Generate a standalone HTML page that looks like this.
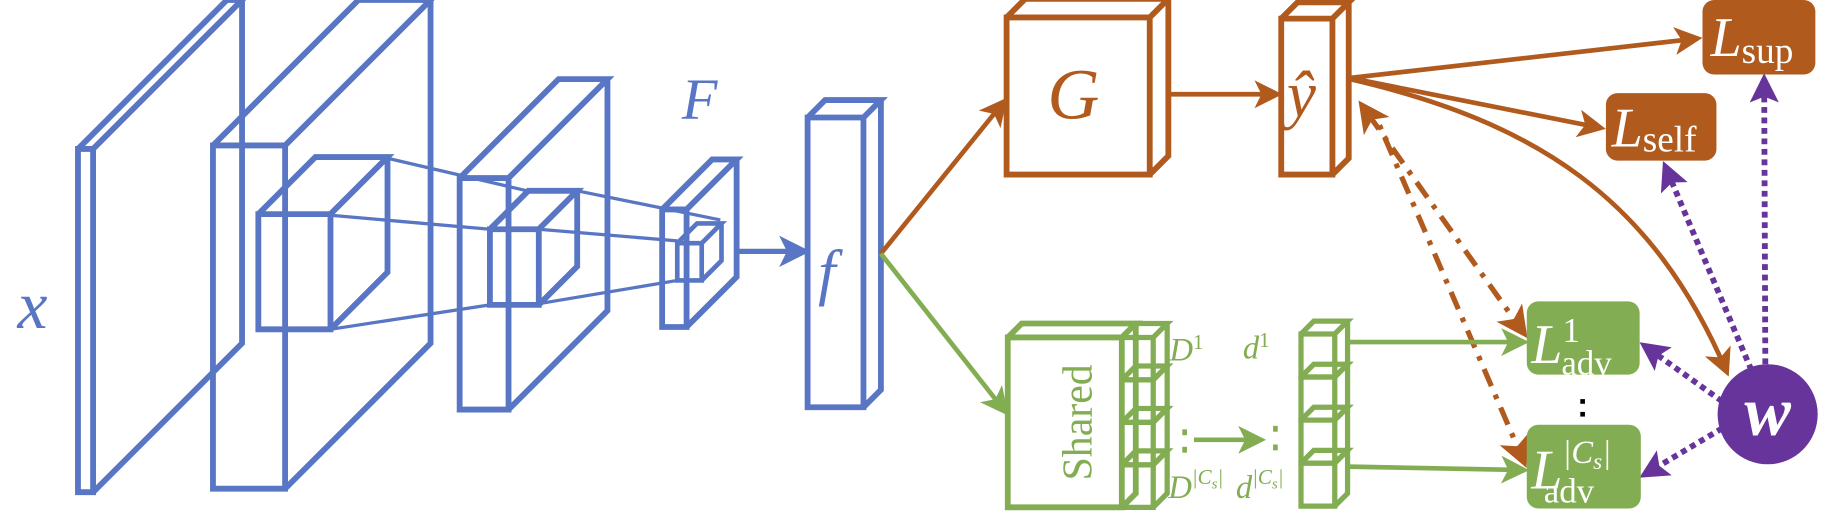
<!DOCTYPE html>
<html><head><meta charset="utf-8"><style>
html,body{margin:0;padding:0;background:#fff;}
svg{display:block;}
text{font-family:"Liberation Serif",serif;}
</style></head><body>
<svg id="d" width="1827" height="522" viewBox="0 0 1570 448.6" preserveAspectRatio="none" xmlns="http://www.w3.org/2000/svg">
<defs>
<marker id="mo" markerWidth="6" markerHeight="6" refX="5" refY="3" orient="auto" markerUnits="strokeWidth"><path d="M0,0 L6,3 L0,6 L1.5,3 Z" fill="#B05A1E"/></marker>
<marker id="mg" markerWidth="6" markerHeight="6" refX="5" refY="3" orient="auto" markerUnits="strokeWidth"><path d="M0,0 L6,3 L0,6 L1.5,3 Z" fill="#83AD52"/></marker>
<marker id="mb" markerWidth="6" markerHeight="6" refX="5" refY="3" orient="auto" markerUnits="strokeWidth"><path d="M0,0 L6,3 L0,6 L1.5,3 Z" fill="#5876C4"/></marker>
<marker id="mp" markerWidth="5" markerHeight="5" refX="4" refY="2.5" orient="auto" markerUnits="strokeWidth"><path d="M0,0 L5,2.5 L0,5 L1,2.5 Z" fill="#66349A"/></marker>
<marker id="mos" markerWidth="6" markerHeight="6" refX="1" refY="3" orient="auto" markerUnits="strokeWidth"><path d="M6,0 L0,3 L6,6 L4.5,3 Z" fill="#B05A1E"/></marker>
</defs>
<g id="boxes"></g>
<g fill="none" stroke-linecap="butt">
<line x1="333" y1="136" x2="453" y2="164" stroke="#5876C4" stroke-width="2.8"/>
<line x1="496" y1="164" x2="619" y2="189" stroke="#5876C4" stroke-width="2.8"/>
<line x1="284" y1="185" x2="421" y2="197" stroke="#5876C4" stroke-width="2.8"/>
<line x1="463" y1="197" x2="582" y2="207" stroke="#5876C4" stroke-width="2.8"/>
<line x1="284" y1="283" x2="421" y2="262" stroke="#5876C4" stroke-width="2.8"/>
<line x1="463" y1="261" x2="582" y2="241" stroke="#5876C4" stroke-width="2.8"/>
<line x1="633" y1="216" x2="692" y2="216" stroke="#5876C4" stroke-width="4.5" marker-end="url(#mb)"/>
<line x1="757" y1="218" x2="863" y2="87" stroke="#B05A1E" stroke-width="4" marker-end="url(#mo)"/>
<line x1="757" y1="218" x2="864" y2="354" stroke="#83AD52" stroke-width="4" marker-end="url(#mg)"/>
<line x1="1004" y1="81" x2="1098" y2="81" stroke="#B05A1E" stroke-width="4" marker-end="url(#mo)"/>
<line x1="1160" y1="67" x2="1459" y2="33" stroke="#B05A1E" stroke-width="4" marker-end="url(#mo)"/>
<line x1="1160" y1="67" x2="1376" y2="110" stroke="#B05A1E" stroke-width="4" marker-end="url(#mo)"/>
<path d="M1160,68 C1320,105 1420,170 1484,320" stroke="#B05A1E" stroke-width="4" marker-end="url(#mo)"/>
<path d="M1310,287 L1170,90" stroke="#B05A1E" stroke-width="4.5" stroke-dasharray="16 8 4 8" marker-end="url(#mo)" marker-start="url(#mos)"/>
<path d="M1310,398 L1180,95" stroke="#B05A1E" stroke-width="4.5" stroke-dasharray="16 8 4 8" marker-start="url(#mos)"/>
<line x1="1026" y1="378" x2="1084" y2="378" stroke="#83AD52" stroke-width="4" marker-end="url(#mg)"/>
<line x1="1158" y1="294" x2="1310" y2="294" stroke="#83AD52" stroke-width="4" marker-end="url(#mg)"/>
<line x1="1158" y1="401" x2="1310" y2="404" stroke="#83AD52" stroke-width="4" marker-end="url(#mg)"/>
<line x1="1517" y1="313" x2="1516" y2="68" stroke="#66349A" stroke-width="5" stroke-dasharray="5 4" marker-end="url(#mp)"/>
<line x1="1505" y1="318" x2="1431" y2="143" stroke="#66349A" stroke-width="5" stroke-dasharray="5 4" marker-end="url(#mp)"/>
<line x1="1480" y1="345" x2="1413" y2="297" stroke="#66349A" stroke-width="5" stroke-dasharray="5 4" marker-end="url(#mp)"/>
<line x1="1480" y1="368" x2="1413" y2="408" stroke="#66349A" stroke-width="5" stroke-dasharray="5 4" marker-end="url(#mp)"/>
</g>
<g fill="#83AD52"><rect x="1016" y="369" width="4" height="5"/><rect x="1016" y="384" width="4" height="5"/><rect x="1094" y="366" width="4" height="5"/><rect x="1094" y="382" width="4" height="5"/></g>
<g fill="#000"><rect x="1358" y="343" width="4" height="4"/><rect x="1358" y="354" width="4" height="4"/></g>
<rect x="1463" y="0" width="97" height="64" rx="10" fill="#B05A1E"/>
<rect x="1380" y="80" width="95" height="58" rx="10" fill="#B05A1E"/>
<rect x="1312" y="259" width="97" height="63" rx="10" fill="#83AD52"/>
<rect x="1312" y="365" width="98" height="72" rx="10" fill="#83AD52"/>
<circle cx="1519" cy="356" r="43" fill="#66349A"/>
<text x="15" y="282" font-size="58" font-style="italic" fill="#5876C4">x</text>
<text x="586" y="102" font-size="50" font-style="italic" fill="#5876C4">F</text>
<text x="703" y="252" font-size="54" font-style="italic" fill="#5876C4">f</text>
<text x="900" y="102" font-size="62" font-style="italic" fill="#B05A1E">G</text>
<text x="1106" y="100" font-size="56" font-style="italic" fill="#B05A1E">ŷ</text>
<text transform="translate(938,363) rotate(-90)" text-anchor="middle" font-size="36" fill="#83AD52">Shared</text>
<text x="1005" y="310" font-size="28" font-style="italic" fill="#83AD52">D<tspan font-size="18" font-style="normal" dy="-10">1</tspan></text>
<text x="1068" y="308" font-size="28" font-style="italic" fill="#83AD52">d<tspan font-size="18" font-style="normal" dy="-10">1</tspan></text>
<text x="1004" y="428" font-size="28" font-style="italic" fill="#83AD52">D<tspan font-size="18" dy="-12">|C<tspan font-size="13" dy="4">s</tspan><tspan dy="-4">|</tspan></tspan></text>
<text x="1062" y="428" font-size="28" font-style="italic" fill="#83AD52">d<tspan font-size="18" dy="-12">|C<tspan font-size="13" dy="4">s</tspan><tspan dy="-4">|</tspan></tspan></text>
<text x="1470" y="48" font-size="48" font-style="italic" fill="#fff">L<tspan font-style="normal" font-size="32" dy="6">sup</tspan></text>
<text x="1385" y="126" font-size="48" font-style="italic" fill="#fff">L<tspan font-style="normal" font-size="32" dy="4">self</tspan></text>
<text x="1316" y="312" font-size="48" font-style="italic" fill="#fff">L<tspan font-style="normal" font-size="30" dy="-18">1</tspan><tspan font-style="normal" font-size="30" dx="-16" dy="28">adv</tspan></text>
<text x="1316" y="420" font-size="48" font-style="italic" fill="#fff">L<tspan font-size="28" dy="-22">|C<tspan font-size="20" dy="5">s</tspan><tspan dy="-5">|</tspan></tspan><tspan font-style="normal" font-size="30" dx="-58" dy="34">adv</tspan></text>
<text x="1519" y="374" text-anchor="middle" font-size="60" font-weight="bold" font-style="italic" fill="#fff">w</text>
</svg>
<script>
var NS='http://www.w3.org/2000/svg';
var g=document.getElementById('boxes');
function box(name,x,y,w,h,d,col,sw){
  var p=document.createElementNS(NS,'path');
  
  
  var d1='M'+x+','+y+'h'+w+'v'+h+'h'+(-w)+'Z'+
    'M'+x+','+y+'l'+d+','+(-d)+'h'+w+'l'+(-d)+','+d+
    'M'+(x+w+d)+','+(y-d)+'v'+h+'l'+(-d)+','+d;
  p.setAttribute('d',d1);
  p.setAttribute('fill','none');
  p.setAttribute('stroke',col);
  p.setAttribute('stroke-width',sw);
  p.setAttribute('stroke-linejoin','miter');
  g.appendChild(p);
}
var B='#5876C4',O='#B05A1E',GR='#83AD52';
box('input-plane',67,128,13,295,128,B,5);
box('conv-plane-1',183,125,62,295,125,B,5);
box('conv-cube-1',222,184,62,99,49,B,5);
box('conv-plane-2',395,153,42,199,85,B,5);
box('conv-cube-2',421,197,42,65,33,B,5);
box('conv-plane-3',569,180,21,101,43,B,5);
box('conv-cube-3',582,209,21,32,17,B,4);
box('feature-f-box',694,101,48,249,15,B,5);
box('classifier-G-box',865,15,123,135,16,O,5);
box('yhat-box',1101,16,44,134,14,O,5);
box('shared-box',866,290,98,146,12,GR,5);
for(var i=0;i<4;i++){ box('discriminator-cube-'+(i+1),964,290+i*36.5,27,36.5,12,GR,4.5); }
for(var j=0;j<4;j++){ box('domain-output-cube-'+(j+1),1118,287+j*37,29,37,11,GR,4.5); }
</script>
</body></html>
